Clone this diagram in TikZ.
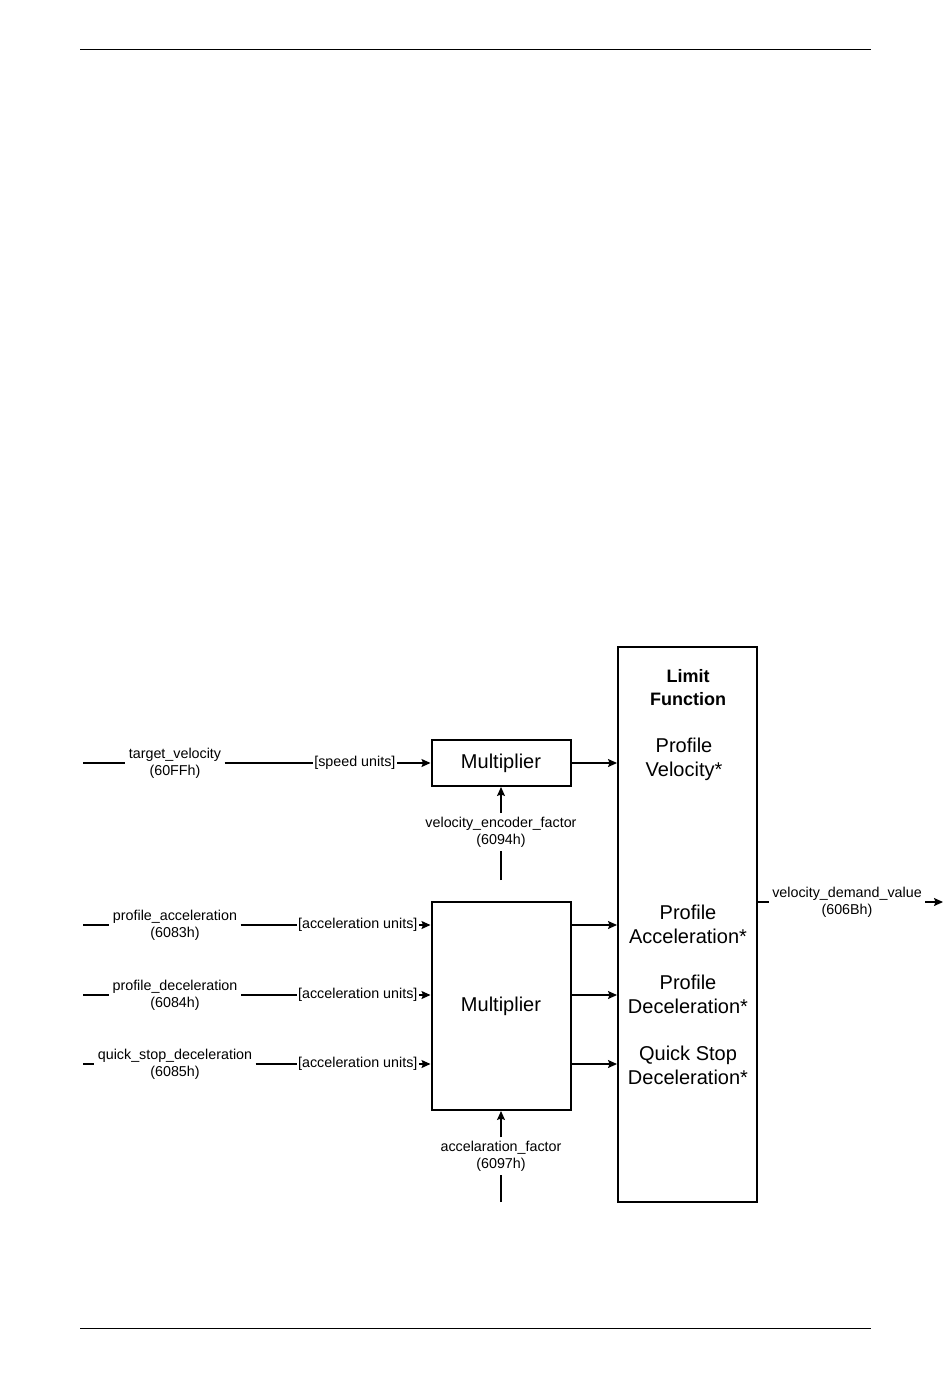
\documentclass[tikz,border=0pt]{standalone}
\usepackage{fontspec}
\setmainfont{Liberation Sans}
\usetikzlibrary{arrows.meta,positioning}

\begin{document}
\begin{tikzpicture}[->,>={Stealth[length=9pt,width=8pt,inset=1.5pt]},x=1pt,y=-1pt,line width=1.2pt]
  \tikzstyle{block}=[draw=black,line width=2pt,minimum width=139pt,font=\fontsize{20}{24}\selectfont]
  \tikzstyle{signal}=[inner sep=3pt,align=center,font=\fontsize{14.3}{17}\selectfont]
  \tikzstyle{unit}=[inner sep=1pt,font=\fontsize{14.3}{17}\selectfont]
  \tikzstyle{limittext}=[align=center,font=\fontsize{20}{24}\selectfont]

  \useasboundingbox (0,0) rectangle (950,1378);
  \draw[-,line width=0.8pt] (80,49) -- (871,49);
  \draw[-,line width=0.8pt] (80,1328) -- (871,1328);

  % blocks
  \node[block, minimum height=46pt] (mult1) at (501,763) {Multiplier};
  \node[block, minimum height=208pt] (mult2) at (501,1006) {Multiplier};
  \node[block, minimum height=555pt] (limit) at (687.5,924.5) {};

  \node[limittext, font=\fontsize{18}{23}\selectfont\bfseries] (lf) at (688,688) {Limit\\Function};
  \node[limittext] (pv) at (684,759) {Profile\\Velocity*};
  \node[limittext] (pacc) at (688,924) {Profile\\Acceleration*};
  \node[limittext] (pdec) at (688,994) {Profile\\Deceleration*};
  \node[limittext] (qsd) at (688,1065) {Quick Stop\\Deceleration*};

  % inputs
  \coordinate (tvin) at (83,763);
  \coordinate (pain) at (83,925);
  \coordinate (pdin) at (83,995);
  \coordinate (qsin) at (83,1064);

  \node[signal] (tv) at (175,763) {target\_velocity\\(60FFh)};
  \node[signal] (pa) at (175,925) {profile\_acceleration\\(6083h)};
  \node[signal] (pd) at (175,995) {profile\_deceleration\\(6084h)};
  \node[signal] (qs) at (175,1064) {quick\_stop\_deceleration\\(6085h)};

  \node[unit, anchor=east] (spd) at (397,763) {[speed units]};
  \node[unit, anchor=east] (au1) at (419,925) {[acceleration units]};
  \node[unit, anchor=east] (au2) at (419,995) {[acceleration units]};
  \node[unit, anchor=east] (au3) at (419,1064) {[acceleration units]};

  \path[-] (tvin) edge (tv) (tv) edge (spd)
           (pain) edge (pa) (pa) edge (au1)
           (pdin) edge (pd) (pd) edge (au2)
           (qsin) edge (qs) (qs) edge (au3);

  \path (spd) edge (mult1)
        (au1) edge (au1 -| mult2.west)
        (au2) edge (au2 -| mult2.west)
        (au3) edge (au3 -| mult2.west);

  % factors
  \coordinate (vefin) at (501,880);
  \coordinate (afin) at (501,1202);
  \node[signal] (vef) at (501,832) {velocity\_encoder\_factor\\(6094h)};
  \node[signal] (af) at (501,1156) {accelaration\_factor\\(6097h)};
  \path[-] (vefin) edge (vef) (afin) edge (af);
  \path (vef) edge (mult1) (af) edge (mult2);

  % to limit function
  \path (mult1) edge (mult1 -| limit.west)
        (au1 -| mult2.east) edge (au1 -| limit.west)
        (au2 -| mult2.east) edge (au2 -| limit.west)
        (au3 -| mult2.east) edge (au3 -| limit.west);

  % output
  \coordinate (vdout) at (943,902);
  \node[signal] (vd) at (847,902) {velocity\_demand\_value\\(606Bh)};
  \path[-] (vd -| limit.east) edge (vd);
  \path (vd) edge (vdout);
\end{tikzpicture}
\end{document}
